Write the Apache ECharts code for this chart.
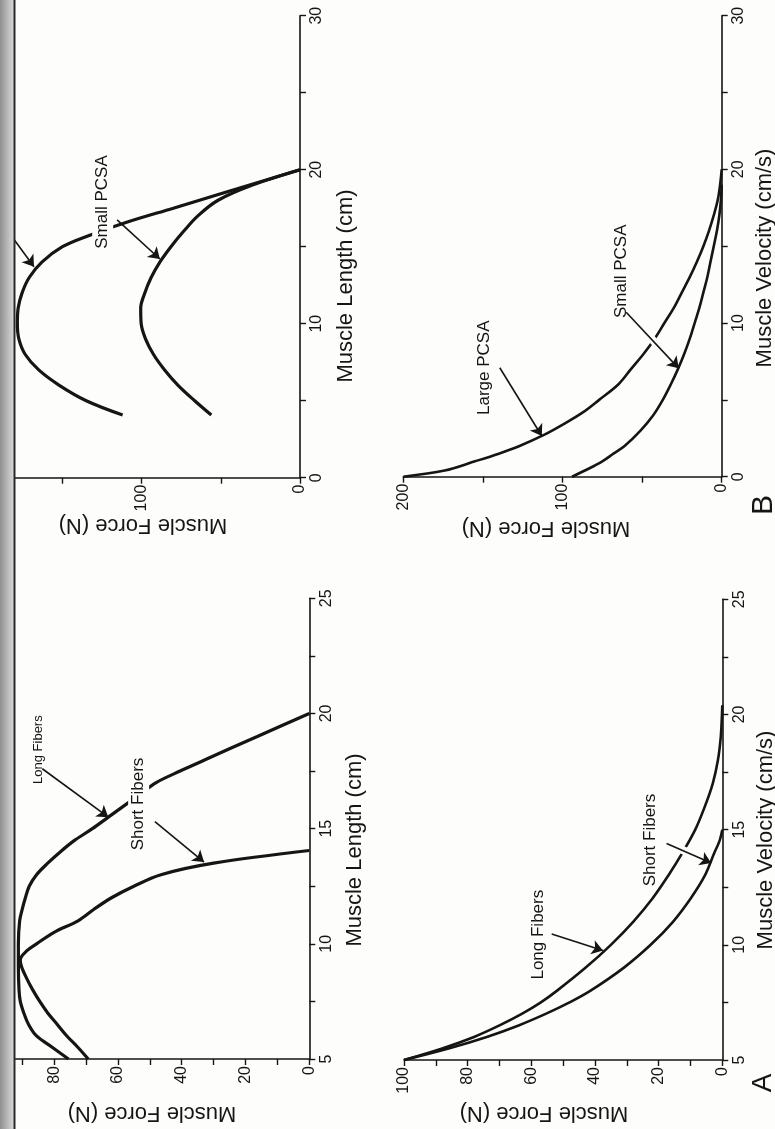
<!DOCTYPE html>
<html><head><meta charset="utf-8">
<script src="https://cdn.jsdelivr.net/npm/echarts@6/dist/echarts.min.js"></script>
<style>html,body{margin:0;padding:0;background:#fff}#c{width:775px;height:1129px}</style>
</head><body><div id="c"></div>
<script>
// ---------- DATA ----------
// Panel B, force-length (top-left)
const pcsaLength      = [4.07, 5, 6, 7, 8, 9, 10, 11, 12, 13, 14, 15, 15.7, 16.6, 17.5, 18.5, 20];
const largePcsaForceL = [112, 135, 152, 165, 173.5, 177.5, 178.5, 178, 175.5, 171, 163, 150, 134, 109, 80, 48, 0];
const smallPcsaLength = [4.07, 5, 6, 7, 8, 9, 10, 11, 12, 13, 14, 15, 16, 17, 18, 19, 20];
const smallPcsaForceL = [56, 66.5, 77, 85.5, 92.5, 97.5, 100.3, 100.6, 98, 94, 88.5, 81.5, 73.5, 64.5, 52, 30, 0];
// Panel A, force-length (bottom-left)
const longFiberLength  = [5, 5.5, 6, 6.5, 7, 7.5, 8, 9, 10, 11, 11.5, 12, 12.5, 13, 13.5, 14, 14.5, 15, 15.5, 16, 16.5, 17, 17.5, 18, 18.5, 19, 19.5, 20];
const longFiberForceL  = [75.5, 80.5, 85.5, 88, 89.5, 90.6, 91, 91.2, 91.2, 90.8, 90, 89, 87.8, 85.5, 82, 78, 73.5, 68, 63, 58, 53, 48, 40.5, 32.5, 24.5, 16.3, 8.2, 0];
const shortFiberLength = [5, 5.5, 6, 6.5, 7, 7.5, 8, 8.5, 9, 9.3, 9.7, 10, 10.5, 11, 11.5, 12, 12.5, 13, 13.5, 14.05];
const shortFiberForceL = [69.3, 72.5, 76, 79, 82, 84.5, 86.7, 88.6, 90.2, 90.6, 88.5, 85.5, 80, 72.5, 67.5, 62, 55, 46.5, 30, 0];
// Panel B, force-velocity (top-right)
const pcsaVelocity     = [0, 0.4, 1, 1.5, 2, 2.7, 3.5, 4.2, 5, 6, 7, 8, 9, 10, 11, 12, 13, 14, 15, 16, 17, 18, 19, 20];
const largePcsaForceV  = [200, 174, 155, 140, 127, 112, 98, 87, 77, 65, 57, 49, 42, 36, 30, 25, 20, 15.5, 11.5, 8, 5, 2.5, 1, 0];
const smallPcsaVel     = [0, 0.5, 1, 1.5, 2, 3, 4, 5, 6, 7, 8, 9, 10, 11, 12, 13, 14, 15, 16, 17, 18, 19];
const smallPcsaForceV  = [94, 84, 75, 68, 61, 51, 43, 37, 32, 27.5, 23.5, 20, 17, 14, 11.5, 9, 7, 5, 3, 1.5, 0.5, 0];
// Panel A, force-velocity (bottom-right)
const longFiberVel     = [5, 5.5, 6, 6.5, 7, 7.5, 8, 9, 10, 11, 12, 13, 14, 15, 16, 17, 18, 19, 20, 20.4];
const longFiberForceV  = [100, 88, 78, 70, 63, 57, 52, 43, 35, 28, 22, 17, 12.5, 8.5, 5.5, 3, 1.4, 0.5, 0.1, 0];
const shortFiberVel    = [5, 5.5, 6, 6.5, 7, 7.5, 8, 9, 10, 11, 12, 13, 14, 14.5, 15];
const shortFiberForceV = [100, 86, 74, 64, 55.5, 48, 41.5, 31, 22.5, 15.5, 10, 5.5, 2.5, 0.9, 0];
// Axis ticks
const lengthTicksB = [0, 30, 10];   // min, max, interval
const lengthTicksA = [5, 25, 5];
const forceTicksB  = [0, 200, 100];
const forceTicksA  = [0, 100, 20];

// ---------- CHART ----------
const FONT = '"Liberation Sans", Arial, Helvetica, sans-serif';
const INK = '#151515';
const BG = '#fdfdfc';
const chart = echarts.init(document.getElementById('c'), null, {renderer: 'canvas', width: 775, height: 1129});
const pair = (ys, xs) => ys.map((y, i) => [xs[i], y]); // [force, length]

const grids = [
  {left: -16.7, right: 475,   top: 15.7,  bottom: 651.3},  // 0 TL
  {left: -9.7,  right: 465.7, top: 598.3, bottom: 70},     // 1 BL
  {left: 403.3, right: 53.3,  top: 15.7,  bottom: 652.3},  // 2 TR
  {left: 404,   right: 52.7,  top: 599.3, bottom: 69}      // 3 BR
].map(g => Object.assign({outerBoundsMode: 'none', containLabel: false}, g));
function xAx(g, t) {
  return {type: 'value', gridIndex: g, inverse: true, min: t[0], max: t[1], interval: t[2], position: 'bottom',
    axisLine: {show: true, onZero: false, lineStyle: {color: INK, width: 1.6}},
    axisTick: {show: true, length: 6, lineStyle: {color: INK, width: 1.4}},
    minorTick: {show: true, splitNumber: 2, length: 6, lineStyle: {color: INK, width: 1.4}},
    splitLine: {show: false}, minorSplitLine: {show: false},
    axisLabel: {rotate: 90, margin: 7, fontSize: 16, color: INK, fontFamily: FONT}};
}
function yAx(g, t) {
  return {type: 'value', gridIndex: g, min: t[0], max: t[1], interval: t[2], position: 'right',
    axisLine: {show: true, onZero: false, lineStyle: {color: INK, width: 1.6}},
    axisTick: {show: true, length: 6, lineStyle: {color: INK, width: 1.4}},
    minorTick: {show: true, splitNumber: 2, length: 6, lineStyle: {color: INK, width: 1.4}},
    splitLine: {show: false}, minorSplitLine: {show: false},
    axisLabel: {rotate: 90, margin: 9, fontSize: 16, color: INK, fontFamily: FONT}};
}
function curve(g, data, w) {
  return {type: 'line', xAxisIndex: g, yAxisIndex: g, data, showSymbol: false, smooth: 0.35,
    lineStyle: {color: INK, width: w}, z: 2, silent: true};
}

// arrows: [grid, fromForce, fromLen, toForce, toLen]
const arrows = [
  [0, 115.5, 16.74, 88.5, 14.2],
  [0, 182.2, 15.7, 168, 13.7],
  [1, 83.7, 17.6, 63, 15.5],
  [1, 48.4, 15.3, 33, 13.55],
  [2, 139.4, 7.09, 113, 2.65],
  [2, 60, 10.7, 27, 7.05],
  [3, 53.6, 10.47, 37.5, 9.75],
  [3, 17.5, 14.4, 3.5, 13.55]
];
// halos where an arrow crosses another curve: [grid, f1, l1, f2, l2]
const halos = [
  [2, 60, 10.7, 36, 8.1],
  [3, 17.5, 14.4, 7, 13.8]
];
// labels: [grid, text, force, length, fontSize, boxed]
const labels = [
  [0, 'Small PCSA', 124.6, 17.9, 17, true],
  [1, 'Long Fibers', 85, 18.43, 13, false],
  [1, 'Short Fibers', 53.5, 16.07, 17, true],
  [2, 'Large PCSA', 148.8, 7.09, 17, false],
  [2, 'Small PCSA', 63.1, 13.37, 17, false],
  [3, 'Long Fibers', 57.8, 10.44, 17, false],
  [3, 'Short Fibers', 22.5, 14.55, 17, false]
];

const series = [
  curve(0, pair(pcsaLength, largePcsaForceL), 3.2),
  curve(0, pair(smallPcsaLength, smallPcsaForceL), 3.2),
  curve(1, pair(longFiberLength, longFiberForceL), 3.2),
  curve(1, pair(shortFiberLength, shortFiberForceL), 3.2),
  curve(2, pair(pcsaVelocity, largePcsaForceV), 2.6),
  curve(2, pair(smallPcsaVel, smallPcsaForceV), 2.6),
  curve(3, pair(longFiberVel, longFiberForceV), 2.6),
  curve(3, pair(shortFiberVel, shortFiberForceV), 2.6)
];
[0, 1, 2, 3].forEach(g => {
  const h = halos.filter(a => a[0] === g);
  if (h.length) series.push({type: 'lines', coordinateSystem: 'cartesian2d', xAxisIndex: g, yAxisIndex: g, z: 3, silent: true,
    lineStyle: {color: BG, width: 8, opacity: 1}, symbol: 'none',
    data: h.map(a => ({coords: [[a[1], a[2]], [a[3], a[4]]]}))});
  series.push({type: 'lines', coordinateSystem: 'cartesian2d', xAxisIndex: g, yAxisIndex: g, z: 4, silent: true,
    lineStyle: {color: INK, width: 1.6, opacity: 1}, symbol: ['none', 'arrow'], symbolSize: [0, 11],
    data: arrows.filter(a => a[0] === g).map(a => ({coords: [[a[1], a[2]], [a[3], a[4]]]}))});
});

chart.setOption({
  animation: false,
  backgroundColor: BG,
  grid: grids,
  xAxis: [xAx(0, forceTicksB), xAx(1, forceTicksA), xAx(2, forceTicksB), xAx(3, forceTicksA)],
  yAxis: [yAx(0, lengthTicksB), yAx(1, lengthTicksA), yAx(2, lengthTicksB), yAx(3, lengthTicksA)],
  series
});

// ---------- TEXT OVERLAYS ----------
function txt(x, y, text, size, rot, extra) {
  return Object.assign({type: 'text', x, y, rotation: rot, z: 100, silent: true,
    style: Object.assign({text, fill: INK, font: size + 'px ' + FONT, align: 'center', verticalAlign: 'middle'}, extra || {})});
}
const graphic = [];
labels.forEach(l => {
  const p = chart.convertToPixel({gridIndex: l[0]}, [l[2], l[3]]);
  graphic.push(txt(p[0], p[1], l[1], l[4], Math.PI / 2,
    l[5] ? {backgroundColor: BG, padding: [2, 6, 2, 6]} : null));
});
const R = Math.PI / 2, U = Math.PI;
graphic.push(
  txt(346, 286, 'Muscle Length (cm)', 22, R),
  txt(355, 850, 'Muscle Length (cm)', 22, R),
  txt(765, 258, 'Muscle Velocity (cm/s)', 22, R),
  txt(766, 840, 'Muscle Velocity (cm/s)', 22, R),
  txt(143, 525, 'Muscle Force (N)', 22, U),
  txt(152, 1113, 'Muscle Force (N)', 22, U),
  txt(546, 528, 'Muscle Force (N)', 22, U),
  txt(544, 1113, 'Muscle Force (N)', 22, U),
  txt(763, 1083, 'A', 28, R),
  txt(764, 505, 'B', 30, R),
  // book gutter
  {type: 'rect', z: 200, silent: true, shape: {x: 0, y: 0, width: 14, height: 1129},
    style: {fill: new echarts.graphic.LinearGradient(0, 0, 1, 0, [
      {offset: 0, color: '#8f8f8f'}, {offset: 0.6, color: '#bdbdbd'}, {offset: 1, color: '#d9d9d9'}])}},
  {type: 'line', z: 201, silent: true, shape: {x1: 14.5, y1: 0, x2: 14.5, y2: 1129},
    style: {stroke: '#2a2a2a', lineWidth: 2}}
);
chart.setOption({graphic});
</script></body></html>
